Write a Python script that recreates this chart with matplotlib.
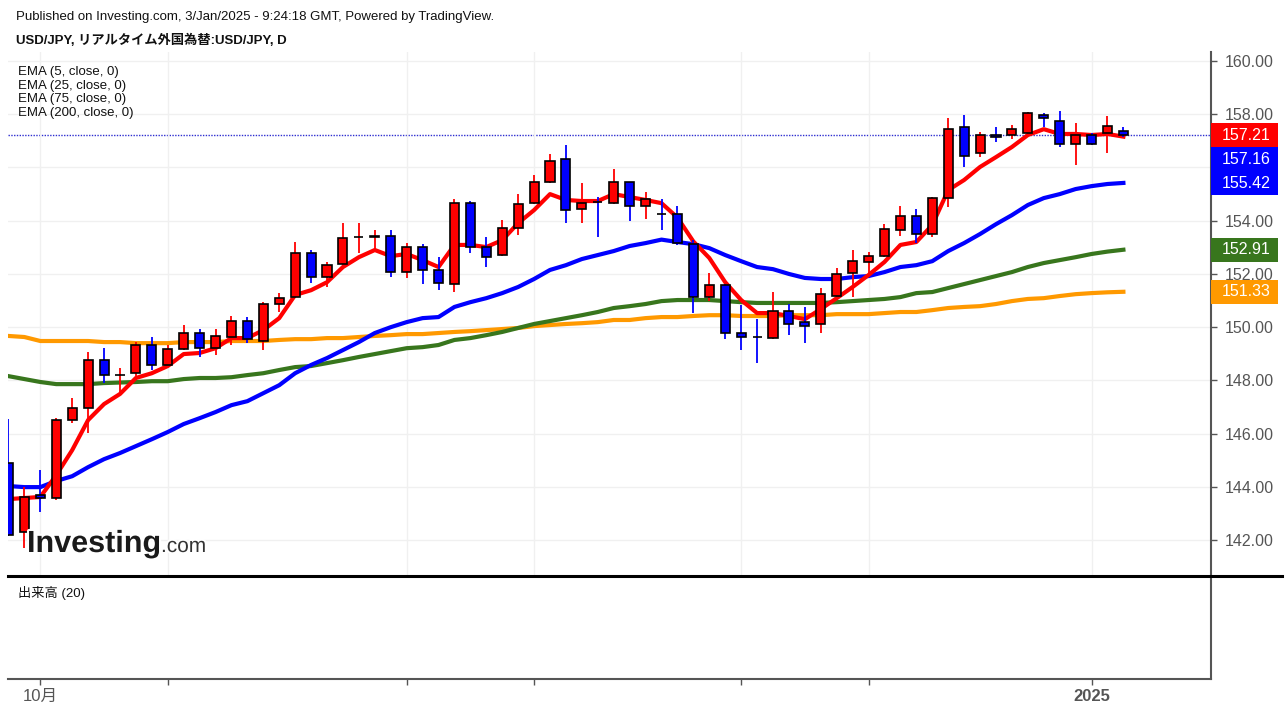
import matplotlib.pyplot as plt
import matplotlib.patheffects as pe
from matplotlib.lines import Line2D
from matplotlib.patches import Rectangle
from matplotlib.transforms import IdentityTransform
import numpy as np

plt.rcParams['font.family'] = ['Liberation Sans', 'Noto Sans CJK JP', 'DejaVu Sans']

# USD/JPY daily candles, 27 Sep 2024 - 3 Jan 2025 (red = up, blue = down)
opens = [144.89, 142.30, 143.69, 143.58, 146.51, 146.96, 148.76, 148.20, 148.27, 149.33,
         148.58, 149.18, 149.78, 149.21, 149.63, 150.23, 149.48, 150.87, 151.13, 152.78,
         151.88, 152.37, 153.37, 153.40, 153.42, 152.07, 153.01, 152.15, 151.62, 154.66,
         153.01, 152.71, 153.72, 154.66, 155.45, 156.32, 154.44, 154.72, 154.66, 155.45,
         154.55, 154.27, 154.25, 153.12, 151.13, 151.58, 149.78, 149.64, 149.59, 150.60,
         150.19, 150.12, 151.17, 152.03, 152.45, 152.67, 153.65, 154.18, 153.50, 154.85,
         157.52, 156.54, 157.22, 157.22, 157.29, 157.97, 157.75, 156.88, 157.22, 157.29,
         157.37]
highs = [146.55, 143.99, 144.63, 146.58, 147.33, 149.06, 149.21, 148.46, 149.44, 149.63,
         149.33, 150.08, 149.93, 149.93, 150.42, 150.38, 150.94, 151.28, 153.20, 152.90,
         152.45, 153.91, 153.91, 153.65, 153.65, 153.16, 153.12, 152.63, 154.81, 154.74,
         153.39, 154.02, 155.00, 155.72, 156.50, 156.84, 155.42, 154.89, 155.94, 155.45,
         155.08, 154.81, 154.55, 153.27, 152.03, 151.62, 150.83, 150.30, 151.32, 150.87,
         150.76, 151.47, 152.22, 152.90, 152.82, 153.87, 154.55, 154.44, 154.89, 157.86,
         157.97, 157.33, 157.52, 157.59, 158.08, 158.05, 158.12, 157.67, 157.29, 157.93,
         157.52]
lows = [142.15, 141.70, 143.05, 143.50, 146.40, 146.02, 147.90, 147.52, 148.16, 148.39,
        148.54, 149.14, 148.88, 148.95, 149.33, 149.40, 149.14, 150.57, 151.09, 151.66,
        151.51, 152.33, 152.78, 152.90, 151.88, 151.85, 151.62, 151.39, 151.32, 152.78,
        152.26, 152.67, 153.46, 154.63, 155.40, 153.91, 153.91, 153.39, 154.63, 153.99,
        154.06, 153.65, 153.09, 150.53, 150.98, 149.55, 149.14, 148.65, 149.55, 149.70,
        149.40, 149.78, 151.13, 151.13, 152.03, 152.63, 153.42, 153.16, 153.39, 154.51,
        156.02, 156.39, 156.96, 157.07, 157.25, 157.52, 156.77, 156.09, 156.85, 156.54,
        157.14]
closes = [142.19, 143.62, 143.58, 146.51, 146.96, 148.76, 148.20, 148.22, 149.33, 148.58,
          149.18, 149.78, 149.21, 149.67, 150.23, 149.55, 150.87, 151.09, 152.78, 151.88,
          152.33, 153.35, 153.39, 153.42, 152.07, 153.01, 152.15, 151.66, 154.66, 153.01,
          152.63, 153.72, 154.63, 155.45, 156.24, 154.40, 154.66, 154.70, 155.45, 154.55,
          154.81, 154.25, 153.16, 151.13, 151.58, 149.78, 149.63, 149.63, 150.60, 150.12,
          150.04, 151.24, 152.00, 152.48, 152.67, 153.69, 154.18, 153.50, 154.85, 157.44,
          156.43, 157.22, 157.15, 157.44, 158.05, 157.86, 156.88, 157.22, 156.88, 157.56,
          157.21]

# moving averages as drawn on the chart
ema5 = [143.54, 143.58, 143.62, 144.44, 145.38, 146.51, 147.11, 147.49, 148.09, 148.27,
        148.54, 148.99, 149.03, 149.21, 149.59, 149.59, 149.89, 150.34, 151.21, 151.39,
        151.69, 152.26, 152.63, 152.90, 152.67, 152.75, 152.52, 152.26, 153.09, 153.09,
        153.01, 153.27, 153.91, 154.40, 155.00, 154.78, 154.74, 154.74, 155.00, 154.89,
        154.78, 154.66, 154.12, 153.22, 152.60, 151.69, 151.02, 150.53, 150.53, 150.42,
        150.30, 150.68, 151.09, 151.51, 151.96, 152.45, 153.09, 153.20, 153.84, 155.15,
        155.53, 156.02, 156.39, 156.77, 157.22, 157.44, 157.26, 157.26, 157.22, 157.26,
        157.16]
ema25 = [144.03, 143.99, 143.99, 144.22, 144.40, 144.74, 145.04, 145.27, 145.53, 145.79,
         146.06, 146.36, 146.58, 146.81, 147.07, 147.22, 147.52, 147.82, 148.27, 148.58,
         148.84, 149.14, 149.44, 149.78, 150.00, 150.19, 150.34, 150.38, 150.76, 150.94,
         151.09, 151.28, 151.51, 151.81, 152.15, 152.33, 152.56, 152.71, 152.86, 153.05,
         153.16, 153.29, 153.20, 153.12, 152.97, 152.71, 152.48, 152.26, 152.18, 152.00,
         151.85, 151.81, 151.81, 151.88, 151.92, 152.07, 152.26, 152.33, 152.48, 152.86,
         153.16, 153.50, 153.87, 154.21, 154.59, 154.85, 155.00, 155.19, 155.30, 155.38,
         155.42]
ema75 = [148.16, 148.05, 147.94, 147.86, 147.86, 147.86, 147.90, 147.92, 147.94, 147.97,
         147.97, 148.05, 148.09, 148.09, 148.12, 148.20, 148.27, 148.39, 148.50, 148.54,
         148.65, 148.76, 148.88, 148.99, 149.10, 149.21, 149.25, 149.33, 149.52, 149.59,
         149.70, 149.82, 149.97, 150.12, 150.23, 150.34, 150.45, 150.57, 150.72, 150.79,
         150.87, 150.98, 151.02, 151.02, 151.02, 150.98, 150.94, 150.91, 150.91, 150.91,
         150.91, 150.91, 150.94, 150.98, 151.02, 151.06, 151.13, 151.28, 151.32, 151.47,
         151.62, 151.77, 151.92, 152.07, 152.26, 152.41, 152.52, 152.63, 152.75, 152.84,
         152.91]
ema200 = [149.67, 149.63, 149.48, 149.48, 149.48, 149.48, 149.44, 149.44, 149.40, 149.40,
          149.40, 149.44, 149.44, 149.44, 149.48, 149.48, 149.48, 149.52, 149.55, 149.55,
          149.59, 149.59, 149.63, 149.67, 149.70, 149.74, 149.74, 149.78, 149.82, 149.85,
          149.89, 149.93, 149.97, 150.04, 150.08, 150.12, 150.15, 150.19, 150.27, 150.27,
          150.34, 150.38, 150.38, 150.42, 150.45, 150.45, 150.42, 150.42, 150.42, 150.45,
          150.45, 150.45, 150.49, 150.49, 150.49, 150.53, 150.57, 150.57, 150.64, 150.72,
          150.76, 150.79, 150.87, 150.98, 151.06, 151.09, 151.17, 151.24, 151.28, 151.31,
          151.33]

legend_names = ['EMA (5, close, 0)', 'EMA (25, close, 0)', 'EMA (75, close, 0)', 'EMA (200, close, 0)']

# x ticks (candle index) and price scale
tick_index = [2, 10, 25, 33, 46, 54, 68]
tick_labels = ['10月', '', '', '', '', '', '2025']
price_ticks = [142, 144, 146, 148, 150, 152, 154, 156, 158, 160]
hidden_price_labels = [156]  # covered by the value boxes on the reference

# last values in the coloured boxes on the price scale
box_values = [157.21, 157.16, 155.42, 152.91, 151.33]
box_colors = ['#ff0000', '#0000ff', '#0000ff', '#38761d', '#ff9900']

UP, DOWN = '#ff0000', '#0000ff'
W, H = 1285, 713
fig = plt.figure(figsize=(W / 100, H / 100), dpi=100)


def px_box(x0, y0, x1, y1):
    # pixel box measured from the top-left corner -> figure fraction
    return [x0 / W, 1 - y1 / H, (x1 - x0) / W, (y1 - y0) / H]


ax = fig.add_axes(px_box(8, 52, 1211, 576))
vax = fig.add_axes(px_box(8, 577, 1211, 679), sharex=ax)

idx = np.arange(len(closes))
o = np.array(opens)
c = np.array(closes)
colors = [UP if cc >= oo else DOWN for oo, cc in zip(o, c)]

# wicks, then bodies on top
ax.vlines(idx, lows, highs, colors=colors, linewidth=1.3, zorder=3)
bottoms = np.minimum(o, c)
heights = np.maximum(np.abs(c - o), 0.015)
ax.bar(idx, heights, bottom=bottoms, width=0.57, color=colors,
       edgecolor='black', linewidth=1.2, zorder=4)

# moving averages (behind the candles)
ax.plot(idx, ema200, color='#ff9900', lw=3, zorder=2)
ax.plot(idx, ema75, color='#38761d', lw=3, zorder=2)
ax.plot(idx, ema25, color='#0000ff', lw=3, zorder=2)
ax.plot(idx, ema5, color='#ff0000', lw=3, zorder=2)

# dotted last-price line
ax.axhline(closes[-1], color='#2f2fd0', lw=1.0, ls=(0, (1, 1)), zorder=1)

ax.set_xlim(-0.03, 75.5)
ax.set_ylim(140.65, 160.34)
ax.set_yticks(price_ticks)
ax.set_yticklabels(['' if p in hidden_price_labels else f'{p:.2f}' for p in price_ticks])
ax.yaxis.tick_right()
ax.tick_params(axis='y', direction='out', length=4, width=1, color='#555555',
               labelcolor='#555555', labelsize=11.5, pad=6)
ax.tick_params(axis='x', length=0, labelbottom=False)
ax.set_xticks(tick_index)
ax.grid(True, color='#f0f0f0', lw=1, zorder=0)
for side in ['top', 'left', 'bottom']:
    ax.spines[side].set_visible(False)
ax.spines['right'].set_color('#555555')
ax.spines['right'].set_linewidth(1.5)

# volume pane (empty for forex)
vax.set_ylim(0, 1)
vax.set_yticks([])
vax.set_xticks(tick_index)
vax.set_xticklabels(tick_labels)
vax.tick_params(axis='x', direction='out', length=4, width=1, color='#555555',
                labelcolor='#555555', labelsize=12, pad=3)
vax.get_xticklabels()[-1].set_fontweight('bold')
for side in ['top', 'left']:
    vax.spines[side].set_visible(False)
for side in ['right', 'bottom']:
    vax.spines[side].set_color('#555555')
    vax.spines[side].set_linewidth(1.5)
vax.text(10 / 1203, 1 - 16 / 102, '出来高 (20)', transform=vax.transAxes,
         fontsize=9.5, va='center', ha='left', color='#111111')

# heavy separator between the panes
fig.add_artist(Line2D([8 / W, 1282 / W], [1 - 576 / H] * 2, color='black', lw=2.2))

# header
fig.text(16 / W, 1 - 17 / H, 'Published on Investing.com, 3/Jan/2025 - 9:24:18 GMT, Powered by TradingView.',
         fontsize=9.5, va='center', ha='left', color='#111111')
fig.text(16 / W, 1 - 40 / H, 'USD/JPY, リアルタイム外国為替:USD/JPY, D',
         fontsize=9.5, fontweight='bold', va='center', ha='left', color='#111111')

# indicator legend
for k, name in enumerate(legend_names):
    fig.text(18 / W, 1 - (72 + 13.6 * k) / H, name, fontsize=9.5,
             va='center', ha='left', color='#111111')

# watermark
halo = [pe.withStroke(linewidth=3, foreground='white')]
fig.text(27 / W, 1 - 552 / H, 'Investing', fontsize=22, fontweight='bold',
         color='#1a1a1a', va='baseline', ha='left', path_effects=halo)
fig.text(161 / W, 1 - 552 / H, '.com', fontsize=15, color='#333333',
         va='baseline', ha='left', path_effects=halo)

# value boxes on the price scale, pushed down when they overlap
box_h = 24
prev_bottom = None
for v, col in zip(box_values, box_colors):
    yc = ax.transData.transform((0, v))[1]
    if prev_bottom is not None and yc + box_h / 2 > prev_bottom:
        yc = prev_bottom - box_h / 2
    fig.add_artist(Rectangle((1211, yc - box_h / 2), 67, box_h, facecolor=col,
                             edgecolor='none', transform=IdentityTransform()))
    fig.text(1222 / W, yc / H, f'{v:.2f}', color='white', fontsize=11.5,
             va='center', ha='left')
    prev_bottom = yc - box_h / 2

fig.savefig('out.png', dpi=100)
